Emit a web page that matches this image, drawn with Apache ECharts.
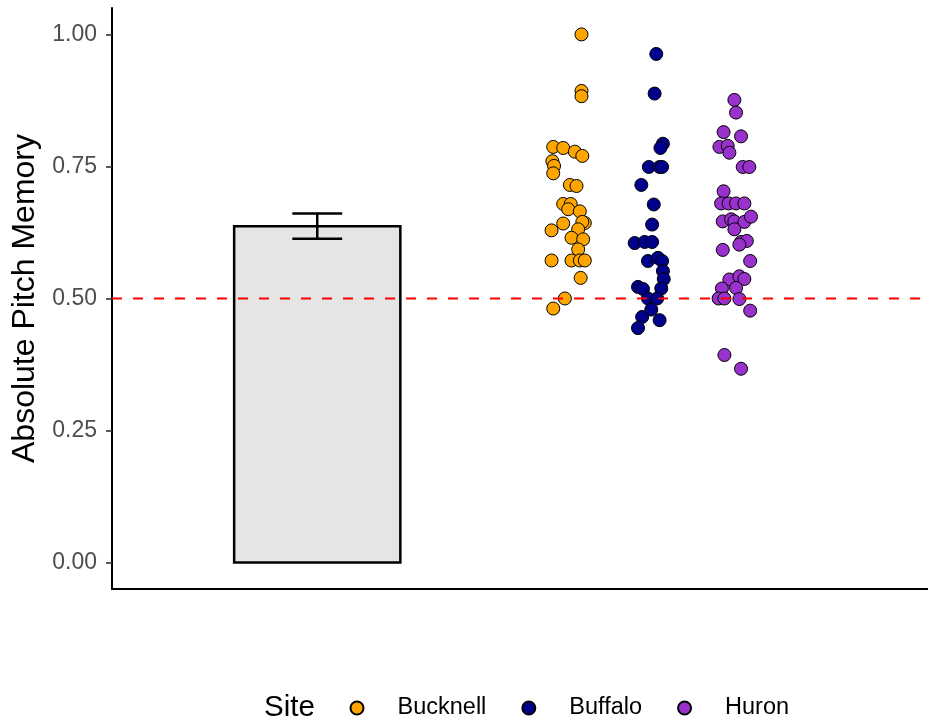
<!DOCTYPE html>
<html>
<head>
<meta charset="utf-8">
<script src="https://cdn.jsdelivr.net/npm/echarts@6/dist/echarts.min.js"></script>
<style>html,body{margin:0;padding:0;background:#fff;}#chart{width:928px;height:721px;}</style>
</head>
<body>
<div id="chart"></div>
<script>
// ---- data ----
const sites = ['Bucknell', 'Buffalo', 'Huron'];
const siteColors = ['#FFA500', '#00008B', '#9932CC'];
const yTicks = [0, 0.25, 0.5, 0.75, 1.0];
const chanceLevel = [0.5];

const barMean = [0.637];
const barLow = [0.613];
const barHigh = [0.661];

const bucknellY = [1.000, 0.893, 0.883, 0.787, 0.785, 0.778, 0.770, 0.760, 0.751, 0.737,
  0.715, 0.713, 0.679, 0.679, 0.669, 0.665, 0.643, 0.645, 0.642, 0.629, 0.631, 0.615,
  0.612, 0.593, 0.572, 0.572, 0.572, 0.572, 0.539, 0.500, 0.481];
const bucknellJitter = [0.18, 0.18, 0.18, -0.16, -0.04, 0.10, 0.19, -0.17, -0.15, -0.16,
  0.04, 0.12, -0.04, 0.05, 0.02, 0.16, 0.22, 0.19, -0.04, -0.18, 0.14, 0.06,
  0.20, 0.14, -0.18, 0.06, 0.16, 0.22, 0.17, -0.02, -0.16];

const buffaloY = [0.963, 0.888, 0.793, 0.785, 0.749, 0.749, 0.749, 0.715, 0.678, 0.640,
  0.605, 0.607, 0.607, 0.571, 0.577, 0.571, 0.552, 0.537, 0.519, 0.522, 0.518,
  0.500, 0.500, 0.479, 0.465, 0.459, 0.444];
const buffaloJitter = [0.08, 0.06, 0.16, 0.13, -0.01, 0.12, 0.15, -0.10, 0.05, 0.03,
  -0.18, -0.06, 0.03, -0.02, 0.10, 0.15, 0.16, 0.17, 0.14, -0.14, -0.08,
  -0.02, 0.09, 0.02, -0.09, 0.12, -0.14];

const huronY = [0.876, 0.852, 0.815, 0.807, 0.787, 0.789, 0.776, 0.749, 0.749, 0.703,
  0.680, 0.680, 0.680, 0.680, 0.646, 0.650, 0.646, 0.645, 0.655, 0.631, 0.592,
  0.607, 0.609, 0.602, 0.571, 0.536, 0.542, 0.537, 0.520, 0.519, 0.500, 0.500,
  0.499, 0.477, 0.393, 0.367];
const huronJitter = [0.02, 0.04, -0.11, 0.10, -0.16, -0.06, -0.04, 0.12, 0.20, -0.11,
  -0.14, -0.05, 0.04, 0.14, -0.12, -0.02, 0.02, 0.14, 0.22, 0.02, -0.12,
  0.10, 0.17, 0.08, 0.21, -0.04, 0.08, 0.14, 0.04, -0.13, -0.17, -0.10,
  0.08, 0.21, -0.10, 0.10];

// ---- layout (positions, not data) ----
const X_MIN = -4.47, X_MAX = 5.35;
const BAR_CENTER = -2, BAR_HALF = 1, CAP_HALF = 0.3;
const siteCenters = [1, 2, 3];
const FONT = '"Liberation Sans", Arial, Helvetica, sans-serif';

const ys = [bucknellY, buffaloY, huronY];
const js = [bucknellJitter, buffaloJitter, huronJitter];

const chart = echarts.init(document.getElementById('chart'), null, {renderer: 'canvas'});

const scatterSeries = sites.map((name, i) => ({
  name: name,
  type: 'scatter',
  symbol: 'circle',
  symbolSize: 13,
  z: 3,
  itemStyle: {color: siteColors[i], borderColor: '#000', borderWidth: 1, opacity: 1},
  emphasis: {disabled: true},
  data: ys[i].map((v, k) => [siteCenters[i] + js[i][k], v])
}));

const option = {
  animation: false,
  backgroundColor: '#fff',
  grid: {left: 112, right: 0, top: 8, bottom: 132, containLabel: false},
  xAxis: {
    type: 'value', min: X_MIN, max: X_MAX,
    axisLine: {show: true, onZero: false, lineStyle: {color: '#000', width: 2}},
    axisTick: {show: false}, axisLabel: {show: false}, splitLine: {show: false}
  },
  yAxis: {
    type: 'value', min: -0.05, max: 1.05,
    name: 'Absolute Pitch Memory',
    nameLocation: 'middle', nameRotate: 90, nameGap: 71,
    nameTextStyle: {fontFamily: FONT, fontSize: 32, color: '#000'},
    axisLine: {show: true, onZero: false, lineStyle: {color: '#000', width: 2}},
    axisTick: {show: true, length: 6, customValues: yTicks, lineStyle: {color: '#333', width: 1.6}},
    axisLabel: {show: true, customValues: yTicks, margin: 15, fontFamily: FONT, fontSize: 23, color: '#4D4D4D',
      formatter: v => v.toFixed(2)},
    splitLine: {show: false}
  },
  legend: {
    data: sites,
    left: 349.5, top: 696, padding: 0,
    orient: 'horizontal',
    itemWidth: 13, itemHeight: 13, itemGap: 35,
    icon: 'circle',
    textStyle: {fontFamily: FONT, fontSize: 23.5, color: '#000', padding: [0, 0, 0, 29]},
    selectedMode: false
  },
  graphic: [{
    type: 'text', left: 264, top: 707 - 14,
    style: {text: 'Site', font: '29.5px ' + FONT, fill: '#000'}
  }],
  series: [
    {
      type: 'custom',
      z: 2,
      silent: true,
      data: barMean.map((m, i) => [BAR_CENTER, m, barLow[i], barHigh[i]]),
      renderItem: function (params, api) {
        const xc = api.value(0), m = api.value(1), lo = api.value(2), hi = api.value(3);
        const p0 = api.coord([xc - BAR_HALF, 0]);
        const p1 = api.coord([xc + BAR_HALF, m]);
        const eLo = api.coord([xc, lo]);
        const eHi = api.coord([xc, hi]);
        const cL = api.coord([xc - CAP_HALF, lo]);
        const cR = api.coord([xc + CAP_HALF, lo]);
        const stroke = {stroke: '#000', lineWidth: 2.5};
        return {
          type: 'group',
          children: [
            {type: 'rect', shape: {x: p0[0], y: p1[1], width: p1[0] - p0[0], height: p0[1] - p1[1]},
              style: {fill: '#E5E5E5', stroke: '#000', lineWidth: 2.5}},
            {type: 'line', shape: {x1: eLo[0], y1: eLo[1], x2: eHi[0], y2: eHi[1]}, style: stroke},
            {type: 'line', shape: {x1: cL[0], y1: eLo[1], x2: cR[0], y2: eLo[1]}, style: stroke},
            {type: 'line', shape: {x1: cL[0], y1: eHi[1], x2: cR[0], y2: eHi[1]}, style: stroke}
          ]
        };
      }
    },
    ...scatterSeries,
    {
      type: 'line',
      z: 10,
      silent: true,
      symbol: 'none',
      lineStyle: {color: '#FF0000', width: 2.2, type: [10, 11]},
      data: [[X_MIN, chanceLevel[0]], [X_MAX, chanceLevel[0]]]
    }
  ]
};
chart.setOption(option);
</script>
</body>
</html>
